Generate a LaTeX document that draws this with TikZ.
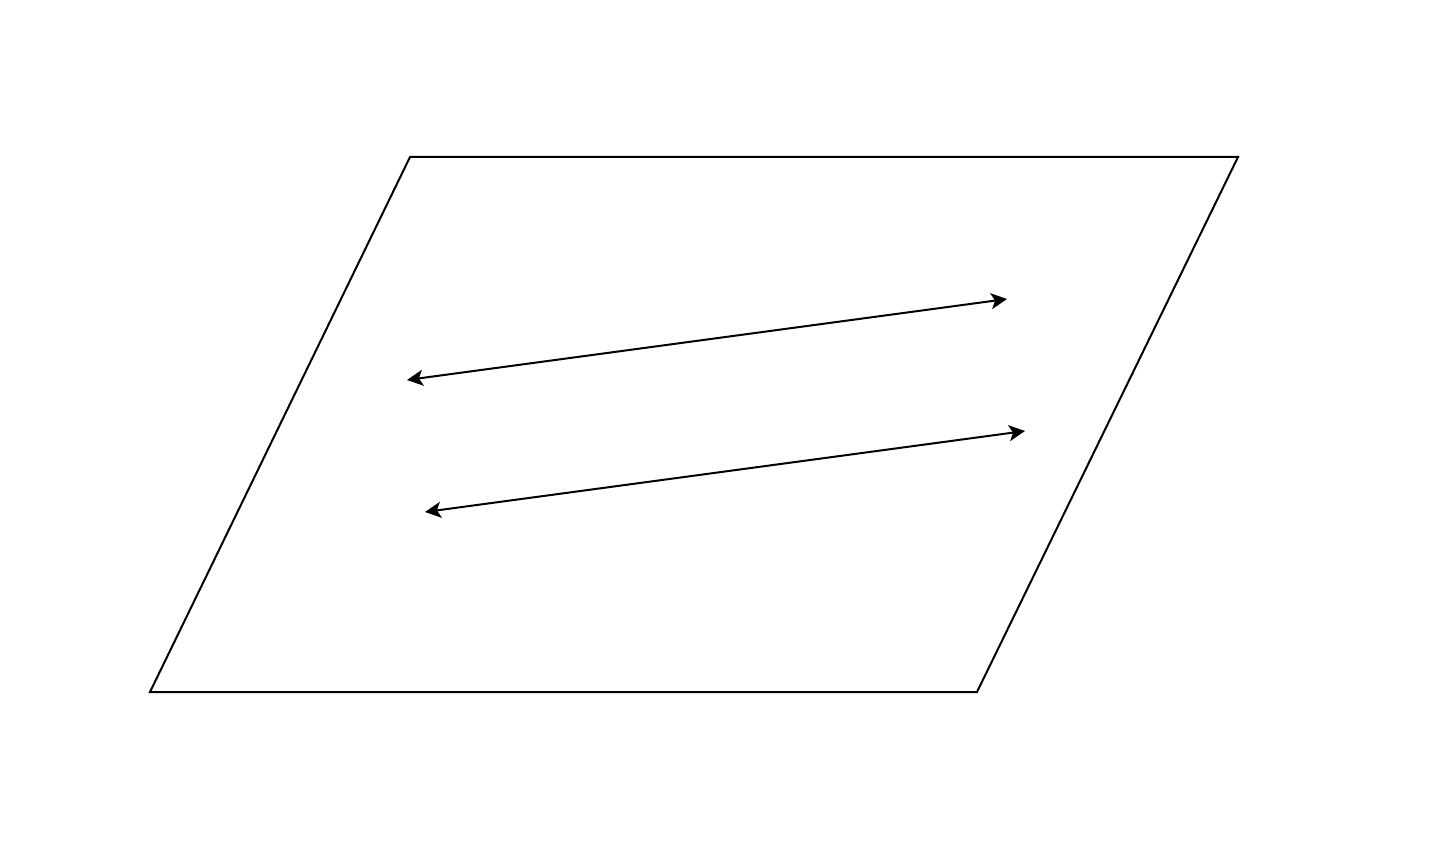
\documentclass[tikz,border=0pt]{standalone}
\usetikzlibrary{arrows.meta}
\begin{document}
\begin{tikzpicture}[x=0.5pt,y=-0.5pt,
  edge/.style={line width=1pt,black},
  dbl/.style={line width=1pt,{Stealth[length=8pt,width=8pt,inset=2pt]}-{Stealth[length=8pt,width=8pt,inset=2pt]}}]
\useasboundingbox (0,0) rectangle (1440,865);
\coordinate (p1) at (410,157);
\coordinate (p2) at (1238,157);
\coordinate (p3) at (977,692);
\coordinate (p4) at (150,692);
\draw[edge] (p1) -- (p2) -- (p3) -- (p4) -- cycle;
\coordinate (a1) at (407,380);
\coordinate (a2) at (1007,299);
\coordinate (b1) at (425,512);
\coordinate (b2) at (1025,431);
\draw[dbl] (a1) -- (a2);
\draw[dbl] (b1) -- (b2);
\end{tikzpicture}
\end{document}
